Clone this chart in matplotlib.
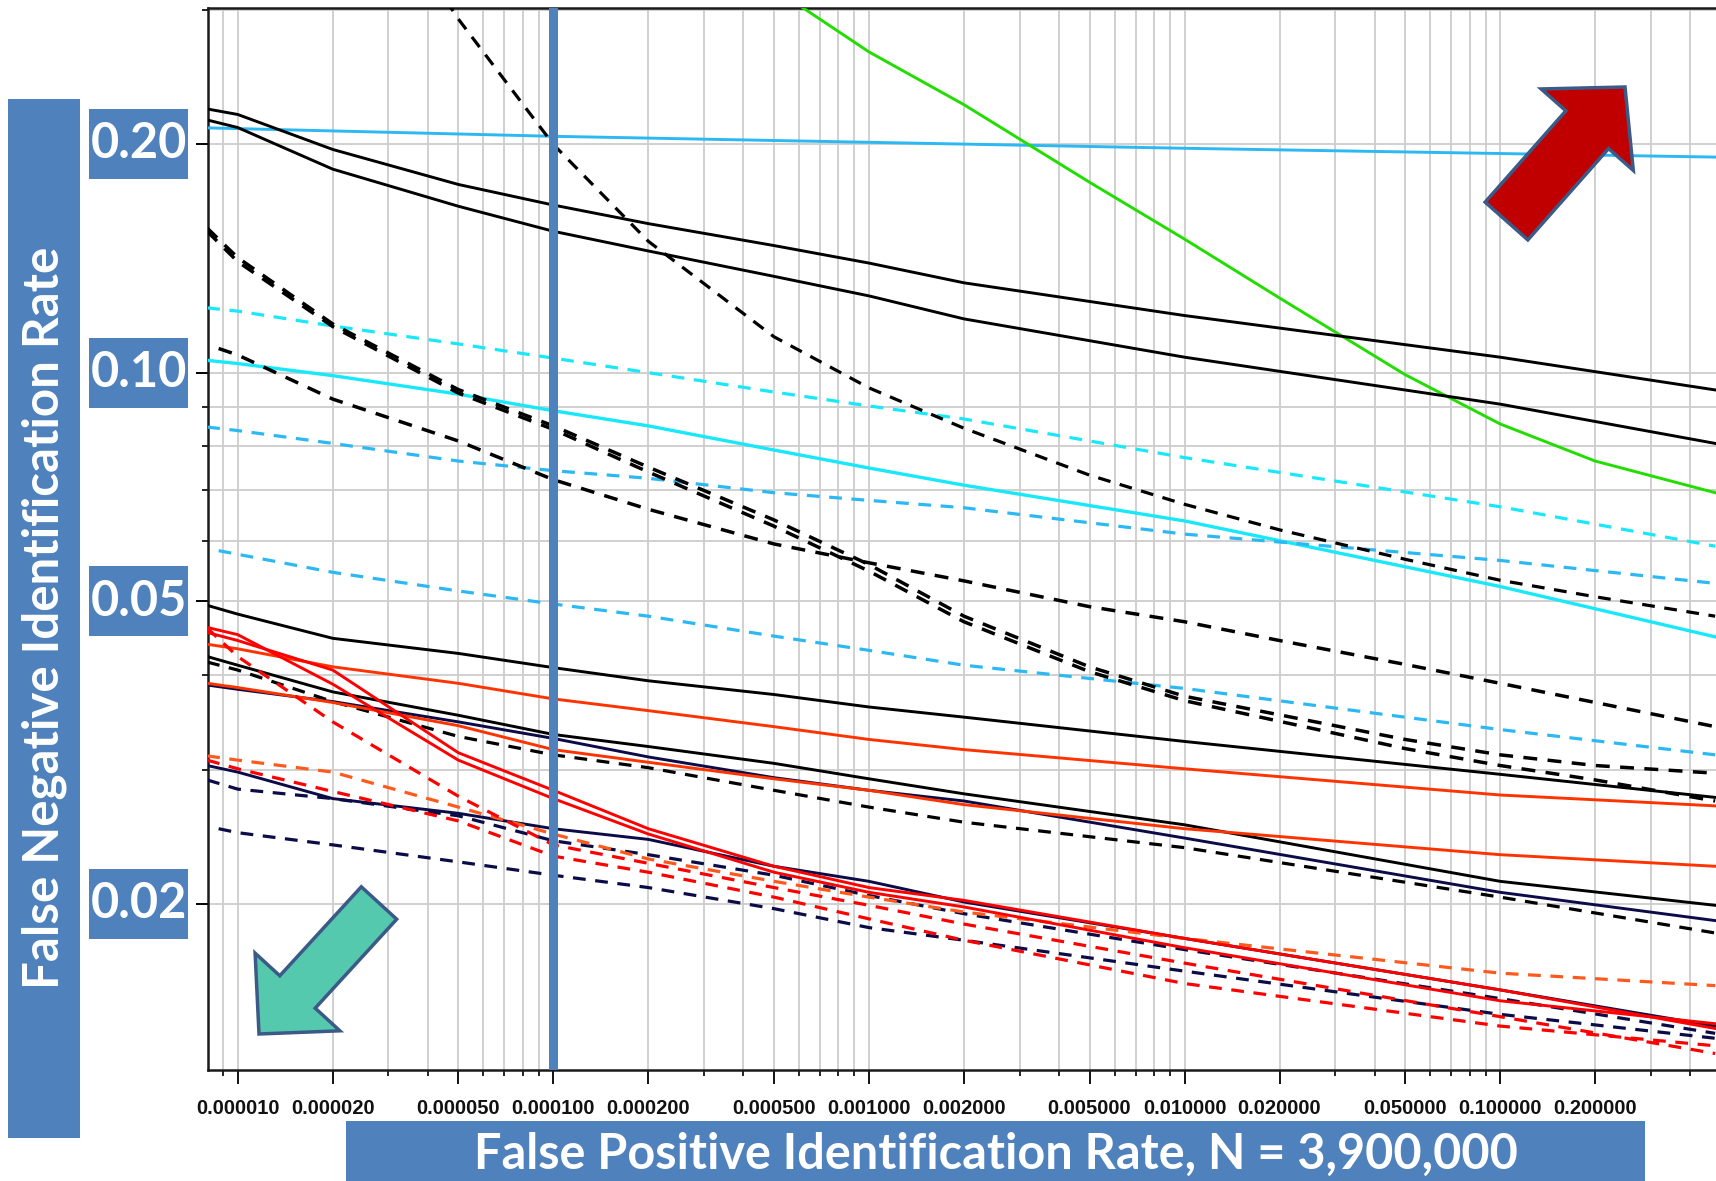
import matplotlib
matplotlib.use("Agg")
import matplotlib.pyplot as plt
from matplotlib.patches import Rectangle, FancyArrow
from matplotlib.ticker import FixedLocator, FixedFormatter, LogLocator, NullFormatter

plt.rcParams["font.family"] = ["Lato", "DejaVu Sans"]

# ------------------------------------------------------------
# DATA (FPIR on x, FNIR on y)
# ------------------------------------------------------------
fpir_std = [8.0e-6, 1e-5, 2e-5, 5e-5, 1e-4, 2e-4, 5e-4, 1e-3, 2e-3, 1e-2, 0.1, 0.48]

# upper group
fpir_c1 = [8.0e-6, 1e-4, 1e-2, 0.48]
fnir_c1 = [0.210, 0.2047, 0.1974, 0.1922]
fnir_k1 = [0.2224, 0.2187, 0.1967, 0.1769, 0.1662, 0.1571, 0.1470, 0.1394, 0.1313, 0.1189, 0.1048, 0.0949]
fnir_k2 = [0.2151, 0.2102, 0.1853, 0.1656, 0.1535, 0.1446, 0.1339, 0.1262, 0.1177, 0.1048, 0.0909, 0.0807]
fpir_g1 = [5.7e-4, 1e-3, 2e-3, 5e-3, 1e-2, 2e-2, 5e-2, 0.1, 0.2, 0.48]
fnir_g1 = [0.309, 0.2644, 0.2253, 0.1781, 0.1499, 0.1254, 0.0994, 0.0856, 0.0765, 0.0695]
fpir_kd1 = [4.57e-5, 5e-5, 1e-4, 2e-4, 5e-4, 1e-3, 2e-3, 5e-3, 1e-2, 2e-2, 5e-2, 0.1, 0.2, 0.48]
fnir_kd1 = [0.309, 0.2921, 0.1997, 0.1489, 0.1115, 0.0955, 0.0845, 0.0733, 0.0671, 0.0621, 0.0568, 0.0533, 0.0507, 0.0478]
fpir_kd2 = [8.0e-6, 1e-5, 2e-5, 5e-5, 1e-4, 2e-4, 5e-4, 1e-3, 2e-3, 5e-3, 1e-2, 5e-2, 0.1, 0.2, 0.48]
fnir_kd2a = [0.1550, 0.1417, 0.1159, 0.0950, 0.0851, 0.0751, 0.0640, 0.0559, 0.0478, 0.0410, 0.0375, 0.0329, 0.0314, 0.0304, 0.0297]
fnir_kd2b = [0.1535, 0.1400, 0.1150, 0.0940, 0.0842, 0.0740, 0.0628, 0.0548, 0.0470, 0.0404, 0.0370, 0.0320, 0.0304, 0.0291, 0.0273]
fpir_kd3 = [8.7e-6, 1e-5, 2e-5, 5e-5, 1e-4, 2e-4, 5e-4, 1e-3, 2e-3, 5e-3, 1e-2, 2e-2, 5e-2, 0.1, 0.2, 0.48]
fnir_kd3 = [0.1076, 0.1055, 0.0923, 0.0813, 0.0723, 0.0661, 0.0595, 0.0562, 0.0532, 0.0492, 0.0470, 0.0444, 0.0413, 0.0390, 0.0368, 0.0342]
fnir_cd1 = [0.1217, 0.1205, 0.1152, 0.1091, 0.1045, 0.1000, 0.0943, 0.0904, 0.0869, 0.0773, 0.0666, 0.0591]
fnir_cs2 = [0.1038, 0.1028, 0.0991, 0.0937, 0.0891, 0.0851, 0.0791, 0.0749, 0.0711, 0.0638, 0.0523, 0.0449]
fnir_cd2 = [0.0848, 0.0839, 0.0807, 0.0765, 0.0743, 0.0726, 0.0695, 0.0679, 0.0664, 0.0613, 0.0566, 0.0528]
fpir_cd3 = [8.7e-6, 2e-5, 5e-5, 1e-4, 2e-4, 5e-4, 1e-3, 2e-3, 1e-2, 0.1, 0.48]
fnir_cd3 = [0.0583, 0.0546, 0.0516, 0.0496, 0.0478, 0.0450, 0.0431, 0.0412, 0.0384, 0.0339, 0.0314]

# lower group
fnir_k3 = [0.0494, 0.0481, 0.0447, 0.0427, 0.0409, 0.0393, 0.0377, 0.0363, 0.0352, 0.0327, 0.0296, 0.0276]
fnir_o1 = [0.0439, 0.0433, 0.0410, 0.0390, 0.0372, 0.0359, 0.0342, 0.0329, 0.0319, 0.0301, 0.0278, 0.0269]
fnir_k4 = [0.0423, 0.0412, 0.0380, 0.0354, 0.0334, 0.0322, 0.0306, 0.0292, 0.0279, 0.0254, 0.0214, 0.0199]
fnir_k5 = [0.0388, 0.0383, 0.0369, 0.0347, 0.0330, 0.0312, 0.0293, 0.0282, 0.0273, 0.0244, 0.0207, 0.0190]
fnir_o2 = [0.0390, 0.0385, 0.0368, 0.0343, 0.0319, 0.0307, 0.0292, 0.0282, 0.0270, 0.0251, 0.0232, 0.0224]
fnir_kd5 = [0.0416, 0.0406, 0.0369, 0.0332, 0.0314, 0.0302, 0.0282, 0.0268, 0.0256, 0.0237, 0.0204, 0.0183]
fnir_k6 = [0.0304, 0.0298, 0.0275, 0.0263, 0.0251, 0.0243, 0.0224, 0.0214, 0.0201, 0.0180, 0.0154, 0.0138]
fnir_r1 = [0.0462, 0.0452, 0.0389, 0.0309, 0.0275, 0.0247, 0.0220, 0.0207, 0.0198, 0.0175, 0.0149, 0.0139]
fnir_r2 = [0.0455, 0.0444, 0.0406, 0.0316, 0.0282, 0.0251, 0.0224, 0.0210, 0.0202, 0.0180, 0.0154, 0.0137]
fnir_od1 = [0.0313, 0.0309, 0.0298, 0.0268, 0.0247, 0.0229, 0.0214, 0.0204, 0.0195, 0.0180, 0.0162, 0.0156]
fnir_rd1 = [0.0309, 0.0301, 0.0281, 0.0257, 0.0231, 0.0220, 0.0204, 0.0191, 0.0179, 0.0157, 0.0138, 0.0130]
fnir_rd2 = [0.0461, 0.0423, 0.0347, 0.0277, 0.0239, 0.0226, 0.0210, 0.0199, 0.0188, 0.0167, 0.0142, 0.0127]
fnir_na = [0.0291, 0.0283, 0.0275, 0.0261, 0.0242, 0.0232, 0.0218, 0.0205, 0.0194, 0.0174, 0.0150, 0.0135]
fpir_nb = [8.7e-6, 1e-5, 2e-5, 5e-5, 1e-4, 2e-4, 5e-4, 1e-3, 2e-3, 1e-2, 0.1, 0.48]
fnir_nb = [0.0251, 0.0248, 0.0239, 0.0227, 0.0218, 0.0210, 0.0197, 0.0186, 0.0179, 0.0163, 0.0143, 0.0133]

VLINE_FPIR = 1e-4

x_tick_vals = [1e-5, 2e-5, 5e-5, 1e-4, 2e-4, 5e-4, 1e-3, 2e-3, 5e-3, 1e-2, 2e-2, 5e-2, 0.1, 0.2]
x_tick_labels = ["0.000010", "0.000020", "0.000050", "0.000100", "0.000200", "0.000500",
                 "0.001000", "0.002000", "0.005000", "0.010000", "0.020000", "0.050000",
                 "0.100000", "0.200000"]
y_tick_vals = [0.20, 0.10, 0.05, 0.02]
y_tick_labels = ["0.20", "0.10", "0.05", "0.02"]

X_LABEL = "False Positive Identification Rate, N = 3,900,000"
Y_LABEL = "False Negative Identification Rate"

# ------------------------------------------------------------
# STYLE
# ------------------------------------------------------------
BOX_BLUE = "#4F81BD"
EDGE_BLUE = "#3B5A87"
BLACK = "#000000"
NAVY = "#0B0B48"
CYAN = "#18E8FA"
SKY = "#2CB8F2"
GREEN = "#22DD00"
ORANGE_RED = "#FF3300"
RED = "#FF0000"
ORANGE = "#FF5A1E"
DASH = (0, (4, 3))
W, H = 1716, 1181
LW = 2.1
LWD = 2.3

curves = [
    (fpir_c1, fnir_c1, SKY, "-", LW),
    (fpir_g1, fnir_g1, GREEN, "-", LW),
    (fpir_std, fnir_cd1, CYAN, DASH, LWD),
    (fpir_std, fnir_cs2, CYAN, "-", 2.4),
    (fpir_std, fnir_cd2, SKY, DASH, LWD),
    (fpir_cd3, fnir_cd3, SKY, DASH, LWD),
    (fpir_std, fnir_k1, BLACK, "-", LW),
    (fpir_std, fnir_k2, BLACK, "-", LW),
    (fpir_kd1, fnir_kd1, BLACK, DASH, LWD),
    (fpir_kd2, fnir_kd2a, BLACK, DASH, 2.5),
    (fpir_kd2, fnir_kd2b, BLACK, DASH, 2.5),
    (fpir_kd3, fnir_kd3, BLACK, DASH, 2.5),
    (fpir_std, fnir_k3, BLACK, "-", LW),
    (fpir_std, fnir_k4, BLACK, "-", LW),
    (fpir_std, fnir_k5, NAVY, "-", LW),
    (fpir_std, fnir_kd5, BLACK, DASH, LWD),
    (fpir_std, fnir_k6, NAVY, "-", LW),
    (fpir_std, fnir_na, NAVY, DASH, LWD),
    (fpir_nb, fnir_nb, NAVY, DASH, LWD),
    (fpir_std, fnir_o1, ORANGE_RED, "-", LW),
    (fpir_std, fnir_o2, ORANGE_RED, "-", LW),
    (fpir_std, fnir_od1, ORANGE, DASH, LWD),
    (fpir_std, fnir_rd1, RED, DASH, LWD),
    (fpir_std, fnir_rd2, RED, DASH, LWD),
    (fpir_std, fnir_r1, RED, "-", LW),
    (fpir_std, fnir_r2, RED, "-", LW),
]

# ------------------------------------------------------------
# FIGURE
# ------------------------------------------------------------
fig = plt.figure(figsize=(W / 100, H / 100), dpi=100)
ax = fig.add_axes([208 / W, 1 - 1070 / H, 1 - 208 / W, (1070 - 8) / H])
ax.set_xscale("log")
ax.set_yscale("log")
ax.set_xlim(8.05e-6, 0.483)
ax.set_ylim(0.01208, 0.302)

for fx, fy, col, ls, lw in curves:
    ax.plot(fx, fy, color=col, ls=ls, lw=lw, zorder=3)

ax.axvline(VLINE_FPIR, color=BOX_BLUE, lw=6.5, zorder=6)

# ticks + grid
ax.xaxis.set_major_locator(FixedLocator(x_tick_vals))
ax.xaxis.set_major_formatter(FixedFormatter(x_tick_labels))
ax.xaxis.set_minor_locator(LogLocator(base=10, subs=(3, 4, 6, 7, 8, 9), numticks=80))
ax.xaxis.set_minor_formatter(NullFormatter())
ax.yaxis.set_major_locator(FixedLocator(y_tick_vals))
ax.yaxis.set_major_formatter(NullFormatter())
ax.yaxis.set_minor_locator(LogLocator(base=10, subs=(2, 3, 4, 5, 6, 7, 8, 9), numticks=80))
ax.yaxis.set_minor_formatter(NullFormatter())

ax.tick_params(axis="x", which="major", direction="out", length=10, width=1.4, pad=11,
               labelsize=14.5, colors="#111111")
ax.tick_params(axis="x", which="minor", direction="out", length=4, width=1.2)
ax.tick_params(axis="y", which="major", direction="out", length=9, width=1.4)
ax.tick_params(axis="y", which="minor", direction="out", length=4.5, width=1.2)
for lbl in ax.get_xticklabels():
    lbl.set_family(["Liberation Sans", "DejaVu Sans"])
    lbl.set_fontweight("bold")

ax.grid(True, which="both", color="#cdcdcd", lw=1.3)
ax.set_axisbelow(True)
for side in ["left", "top", "bottom"]:
    ax.spines[side].set_linewidth(1.8)
    ax.spines[side].set_color("#1a1a1a")
ax.spines["right"].set_visible(False)

# y tick labels in blue boxes
for v, lab in zip(y_tick_vals, y_tick_labels):
    yp = ax.transData.transform((1e-4, v))[1] / H
    fig.add_artist(Rectangle((89 / W, yp - 35 / H), 99 / W, 70 / H, transform=fig.transFigure,
                             facecolor=BOX_BLUE, edgecolor="none", zorder=5))
    fig.text(138.5 / W, yp, lab, ha="center", va="center", color="white",
             fontsize=35, fontweight="bold", zorder=6)

# axis titles in blue boxes
fig.add_artist(Rectangle((7.7 / W, 43 / H), 72.3 / W, 1039.5 / H, transform=fig.transFigure,
                         facecolor=BOX_BLUE, edgecolor="none", zorder=5))
fig.text(44 / W, 1 - 618 / H, Y_LABEL, rotation=90, ha="center", va="center",
         color="white", fontsize=35.5, fontweight="bold", zorder=6)
fig.add_artist(Rectangle((346 / W, 0), 1299 / W, 60 / H, transform=fig.transFigure,
                         facecolor=BOX_BLUE, edgecolor="none", zorder=5))
fig.text(995.5 / W, 27 / H, X_LABEL, ha="center", va="center",
         color="white", fontsize=35, fontweight="bold", zorder=6)

# direction arrows (sizes in inches at 100 dpi)
fig.add_artist(FancyArrow(15.065, 9.60, 1.185, 1.34, width=0.57, head_width=1.23, head_length=0.57,
                          length_includes_head=True, transform=fig.dpi_scale_trans,
                          facecolor="#C00000", edgecolor=EDGE_BLUE, lw=2.5, zorder=7))
fig.add_artist(FancyArrow(3.79, 2.78, -1.20, -1.31, width=0.48, head_width=1.15, head_length=0.57,
                          length_includes_head=True, transform=fig.dpi_scale_trans,
                          facecolor="#55C9AD", edgecolor=EDGE_BLUE, lw=2.5, zorder=7))

fig.savefig("out.png", dpi=100)
